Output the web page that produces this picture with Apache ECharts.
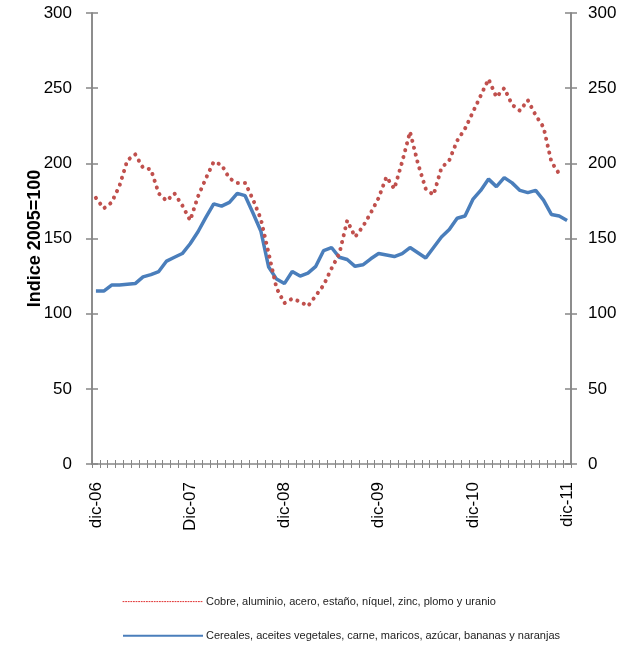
<!DOCTYPE html>
<html><head><meta charset="utf-8">
<script src="https://cdn.jsdelivr.net/npm/echarts@6/dist/echarts.min.js"></script>
<style>html,body{margin:0;padding:0;background:#fff}#c{width:631px;height:647px}</style>
</head><body><div id="c"></div>
<script>
var monthNames = ['dic','ene','feb','mar','abr','may','jun','jul','ago','sep','oct','nov'];
var yearLabels = ['dic-06','Dic-07','dic-08','dic-09','dic-10','dic-11'];
var seriesNames = ['Cobre, aluminio, acero, estaño, níquel, zinc, plomo y uranio',
                   'Cereales, aceites vegetales, carne, maricos, azúcar, bananas y naranjas'];
var metals = [177,170,174,185,202,206,197,196,180,175,180,172,162,178,190,201,199,190,187,187,
              176,163,140,117,107,110,108,105,112,119,130,140,162,151,158,167,177,191,183,201,
              221,200,183,179,197,202,215,223,234,245,256,244,250,239,235,242,232,224,201,193,'-'];
var food = [115,115,119,119,119.5,120,124.5,126,128,135,137.5,140,146.5,154.5,164,173,171.5,174,180,178.5,
            167,155,131,123,120,128,125,127,131.5,142,144,137.5,136,131.5,132.5,136.5,140,139,138,140,
            144,140.5,137,144,151,156,163.5,165,176,182,189.5,184.5,190.5,187,182,180.5,182,175.5,166,165,162];
var yTicks = {min:0, max:300, interval:50};

var categories = [];
for (var i = 0; i < food.length; i++) {
  if (i % 12 === 0) categories.push(yearLabels[i/12]);
  else {
    var yr = 7 + Math.floor(i / 12);
    categories.push(monthNames[i % 12] + '-' + (yr < 10 ? '0' + yr : yr));
  }
}
var axisGray = '#868686';
var font = 'Liberation Sans';
function yAx(pos, labels, inside){
  return {type:'value', min:yTicks.min, max:yTicks.max, interval:yTicks.interval, position:pos,
    splitLine:{show:false},
    axisLine:{show:true, lineStyle:{color:axisGray, width:1.5}},
    axisTick:{show:true, inside:inside, length:6, lineStyle:{color:axisGray, width:1.5}},
    axisLabel:{show:labels, color:'#000', fontSize:17, fontFamily:font, margin: pos==='left'?20:17},
    name: (labels && pos==='left') ? 'Indice 2005=100' : '',
    nameLocation:'middle', nameGap:48, nameRotate:90, nameMoveOverlap:false,
    nameTextStyle:{fontWeight:'bold', fontSize:18, color:'#000', fontFamily:font}
  };
}
function xAx(labels, inside){
  return {type:'category', data:categories, boundaryGap:true, position:'bottom',
    axisLine:{show:labels, onZero:false, lineStyle:{color:axisGray, width:1.5}},
    axisTick:{show:true, inside:inside, interval:0, length:4, lineStyle:{color:axisGray, width:1}},
    axisLabel:{show:labels, interval:11, rotate:90, color:'#000', fontSize:17, fontFamily:font, margin:18}
  };
}
var chart = echarts.init(document.getElementById('c'));
chart.setOption({
  animation:false,
  grid:{left:92, right:60, top:13, bottom:183, containLabel:false},
  xAxis:[xAx(true,false), xAx(false,true)],
  yAxis:[yAx('left',true,false), yAx('right',true,false), yAx('left',false,true), yAx('right',false,true)],
  legend:{orient:'vertical', left:117, top:591, itemWidth:80, itemHeight:14, itemGap:23,
    textStyle:{fontSize:11, color:'#222', fontFamily:font, padding:[0,0,0,-2]},
    itemStyle:{opacity:0},
    data:[{name:seriesNames[0], itemStyle:{opacity:0}, lineStyle:{width:1, type:[1,1.6], color:'#E03030'}},
          {name:seriesNames[1], itemStyle:{opacity:0}, lineStyle:{width:2, color:'#4A7EBB'}}]},
  series:[
    {name:seriesNames[0], type:'line', data:metals, symbol:'none', smooth:false, z:3,
     color:'#C0504D',
     lineStyle:{color:'#C0504D', width:4, type:[0.1,7], cap:'round'}},
    {name:seriesNames[1], type:'line', data:food, symbol:'none', smooth:false, z:2,
     color:'#4A7EBB',
     lineStyle:{color:'#4A7EBB', width:3.5}}
  ]
});
</script></body></html>
